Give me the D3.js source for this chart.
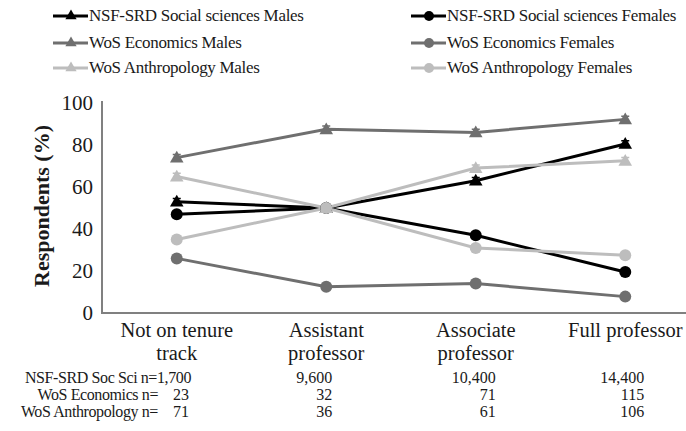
<!DOCTYPE html>
<html><head><meta charset="utf-8">
<script src="https://cdn.jsdelivr.net/npm/d3@7/dist/d3.min.js"></script>
<style>body{margin:0;background:#fff;}svg{display:block;} svg text{font-family:"Liberation Serif","Times New Roman",Times,"DejaVu Serif",serif !important;}</style>
</head><body><svg id="c" width="686" height="431"></svg>
<script>
const categories = ["Not on tenure track","Assistant professor","Associate professor","Full professor"];
const categoryLines = [["Not on tenure","track"],["Assistant","professor"],["Associate","professor"],["Full professor"]];
const seriesNames = ["NSF-SRD Social sciences Males","NSF-SRD Social sciences Females","WoS Economics Males","WoS Economics Females","WoS Anthropology Males","WoS Anthropology Females"];
const nsfMales = [53, 50, 63, 80.5];
const nsfFemales = [47, 50, 37, 19.5];
const econMales = [74, 87.5, 86, 92.2];
const econFemales = [26, 12.5, 14, 7.8];
const anthroMales = [65, 50, 69, 72.5];
const anthroFemales = [35, 50, 31, 27.5];
const maleErr = [1.5, 1.5, 1.5, 1.5];
const yTicks = [0, 20, 40, 60, 80, 100];
const tableLabels = ["NSF-SRD Soc Sci n=", "WoS Economics n=", "WoS Anthropology n="];
const nsfN = ["1,700", "9,600", "10,400", "14,400"];
const econN = ["23", "32", "71", "115"];
const anthroN = ["71", "36", "61", "106"];

const colors = {nsf:"#000000", econ:"#6f6f6f", anthro:"#bdbdbd"};
const series = [
  {name:seriesNames[0], vals:nsfMales, color:colors.nsf, shape:"tri", err:true},
  {name:seriesNames[1], vals:nsfFemales, color:colors.nsf, shape:"circ"},
  {name:seriesNames[2], vals:econMales, color:colors.econ, shape:"tri", err:true},
  {name:seriesNames[3], vals:econFemales, color:colors.econ, shape:"circ"},
  {name:seriesNames[4], vals:anthroMales, color:colors.anthro, shape:"tri", err:true},
  {name:seriesNames[5], vals:anthroFemales, color:colors.anthro, shape:"circ"}
];

const svg = d3.select("#c");
const x = d3.scaleBand().domain(categories).range([102, 700]);
const xc = c => x(c) + x.bandwidth()/2;
const y = d3.scaleLinear().domain([0,100]).range([313,103]);

// axes
const yAxis = svg.append("g").attr("transform","translate(102,0)")
  .call(d3.axisLeft(y).tickValues(yTicks).tickSize(0).tickPadding(9).tickFormat(d3.format("d")));
yAxis.attr("font-family",null);
yAxis.select(".domain").attr("stroke","#808080").attr("stroke-width",2).attr("d","M0,101V313");
yAxis.selectAll("text").attr("font-size",21).attr("fill","#1a1a1a");
const xAxis = svg.append("g").attr("transform","translate(0,313)")
  .call(d3.axisBottom(x).tickSize(0).tickFormat(""));
xAxis.select(".domain").attr("stroke","#808080").attr("stroke-width",2).attr("d","M101,0H700");

// category labels
categories.forEach((c,i)=>{
  const t = svg.append("text").attr("x",xc(c)).attr("y",337).attr("text-anchor","middle")
    .attr("font-size",20.5).attr("fill","#1a1a1a");
  categoryLines[i].forEach((ln,j)=>t.append("tspan").attr("x",xc(c)).attr("dy", j?23:0).text(ln));
});

// y title
svg.append("text").attr("transform","translate(49,206) rotate(-90)").attr("text-anchor","middle")
  .attr("font-size",22).attr("font-weight","bold").attr("fill","#1a1a1a").text("Respondents (%)");

// lines
const line = d3.line().x((d,i)=>xc(categories[i])).y(d=>y(d));
const tri = d3.symbol().type(d3.symbolTriangle).size(80);
const triS = d3.symbol().type(d3.symbolTriangle).size(55);
series.forEach(s=>{
  svg.append("path").datum(s.vals).attr("d",line).attr("fill","none").attr("stroke",s.color).attr("stroke-width",3);
});
series.forEach(s=>{
  const g = svg.append("g");
  if (s.err) {
    s.vals.forEach((v,i)=>{
      const cx = xc(categories[i]);
      g.append("path").attr("d",`M${cx},${y(v+maleErr[i])}V${y(v-maleErr[i])}M${cx-4},${y(v+maleErr[i])}H${cx+4}M${cx-4},${y(v-maleErr[i])}H${cx+4}`)
        .attr("stroke",s.color).attr("stroke-width",1.5);
    });
  }
  s.vals.forEach((v,i)=>{
    const cx = xc(categories[i]);
    if (s.shape==="tri") g.append("path").attr("d",tri).attr("transform",`translate(${cx},${y(v)+1})`).attr("fill",s.color);
    else g.append("circle").attr("cx",cx).attr("cy",y(v)).attr("r",6).attr("fill",s.color);
  });
});

// legend
const legX = [53, 411], legY = [16, 43, 68];
series.forEach((s,i)=>{
  const lx = legX[i%2], ly = legY[Math.floor(i/2)];
  const g = svg.append("g").attr("transform",`translate(${lx},${ly})`);
  g.append("line").attr("x1",0).attr("x2",35).attr("stroke",s.color).attr("stroke-width",3);
  if (s.shape==="tri") g.append("path").attr("d",triS).attr("transform","translate(18,0)").attr("fill",s.color);
  else g.append("circle").attr("cx",18).attr("r",5).attr("fill",s.color);
  g.append("text").attr("x",36).attr("y",5).attr("font-size",17).attr("letter-spacing",-0.3).attr("fill","#1a1a1a").text(s.name);
});

// table
const tableRows = [nsfN, econN, anthroN];
const rowY = [383, 400, 417];
const colRight = [0, 6, 20, 19];
tableRows.forEach((row,r)=>{
  const fs = 16;
  if (r===0) {
    svg.append("text").attr("x",191).attr("y",rowY[r]).attr("text-anchor","end").attr("font-size",fs).attr("fill","#1a1a1a")
      .attr("letter-spacing",-0.4).text(tableLabels[r] + row[0]);
  } else {
    svg.append("text").attr("x",158).attr("y",rowY[r]).attr("text-anchor","end").attr("font-size",fs).attr("fill","#1a1a1a")
      .attr("letter-spacing",-0.4).text(tableLabels[r]);
    svg.append("text").attr("x",189).attr("y",rowY[r]).attr("text-anchor","end").attr("font-size",fs).attr("fill","#1a1a1a").text(row[0]);
  }
  for (let i=1;i<4;i++){
    svg.append("text").attr("x",xc(categories[i])+colRight[i]).attr("y",rowY[r]).attr("text-anchor","end")
      .attr("font-size",fs).attr("fill","#1a1a1a").text(row[i]);
  }
});
</script></body></html>
